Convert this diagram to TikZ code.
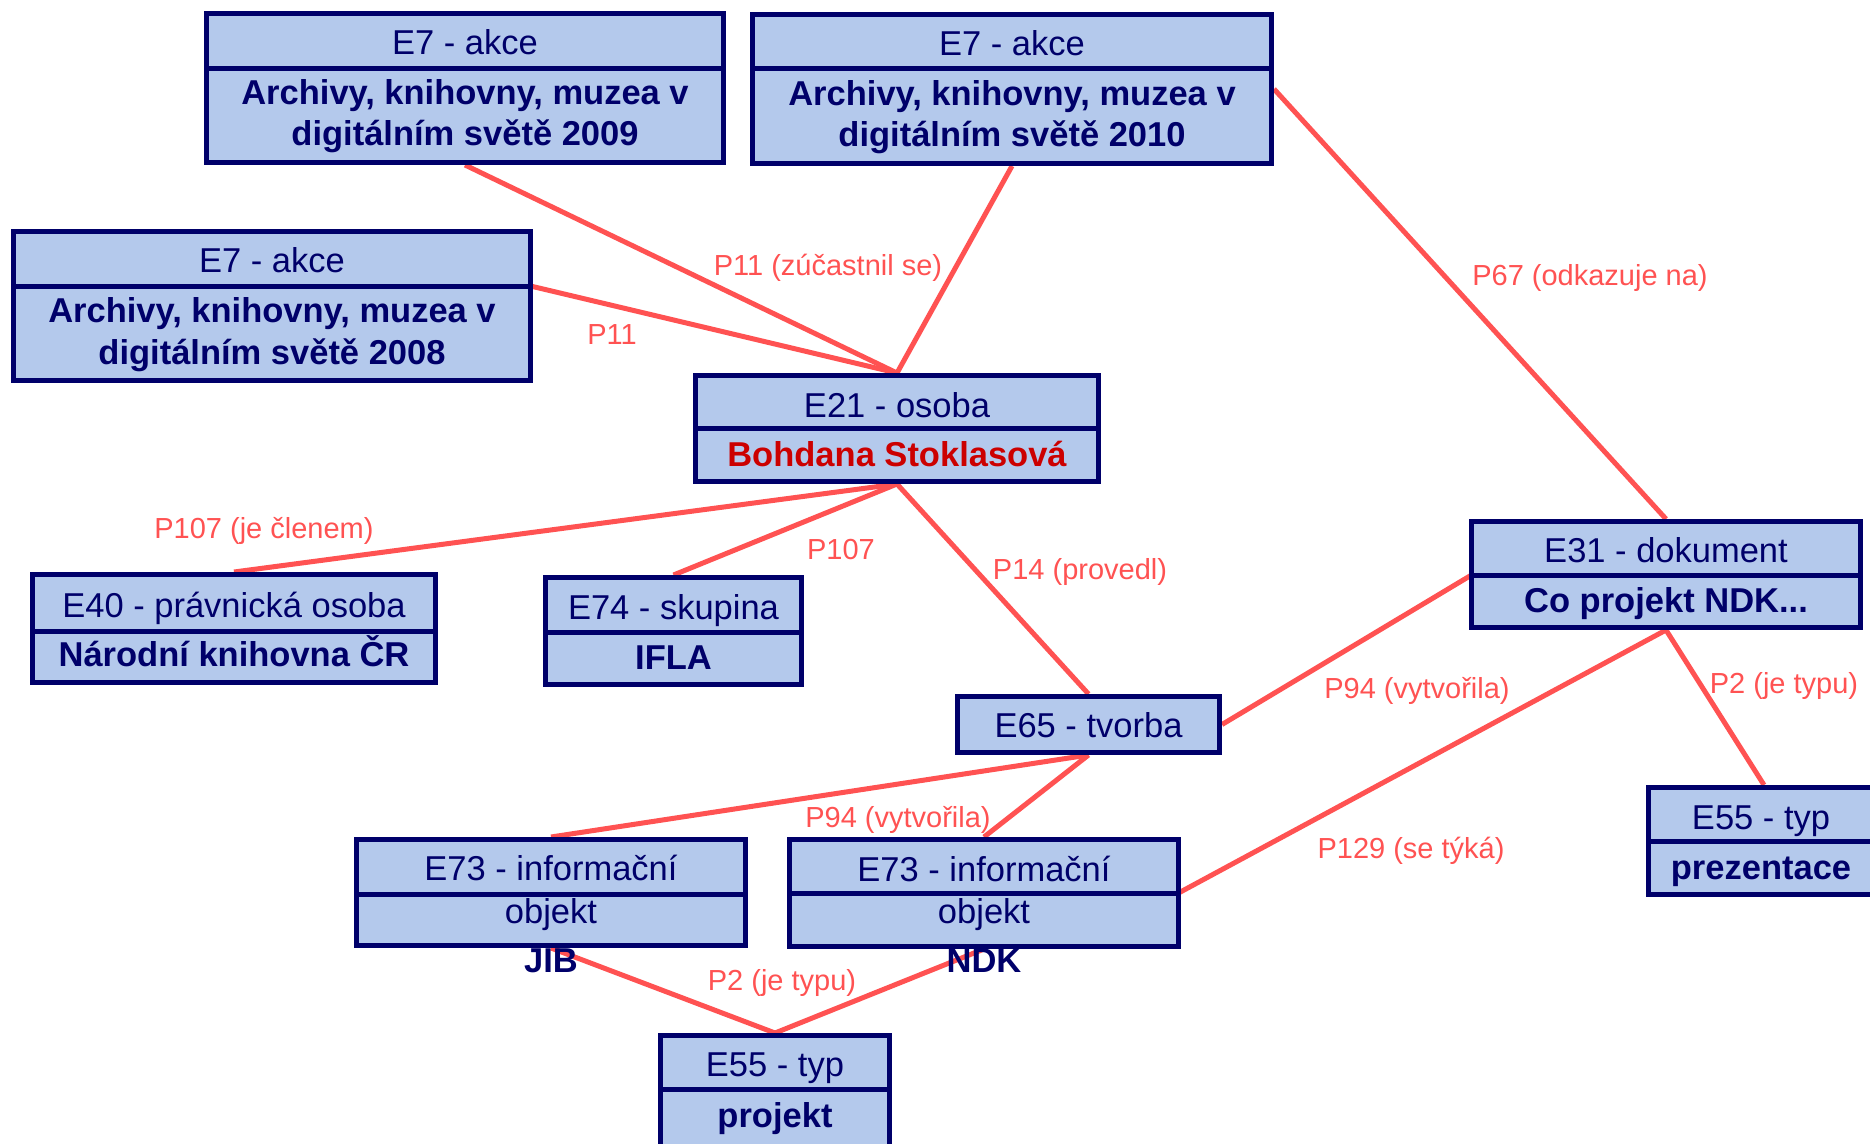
\documentclass[tikz,border=0pt]{standalone}
\usepackage{fontspec}
\setmainfont{Liberation Sans}
\usetikzlibrary{backgrounds}
\definecolor{boxfill}{RGB}{180,201,236}
\definecolor{navy}{RGB}{0,0,106}
\definecolor{relred}{RGB}{255,82,82}
\definecolor{namered}{RGB}{204,0,0}
\newcommand\ebox[6]{%
  \node[ebox, minimum width={#4-#2-5}, minimum height={#5-#3-5}] (#1) at ({(#2+#4)/2},{(#3+#5)/2}) {};
  \draw[divline] ({#2+2.5},#6) coordinate (#1-dl) -- ({#4-2.5},#6) coordinate (#1-dr);}
\begin{document}
\begin{tikzpicture}[x=1pt,y=-1pt,
  ebox/.style={draw=navy, line width=5pt, fill=boxfill, inner sep=0pt},
  divline/.style={draw=navy, line width=5pt},
  rel/.style={draw=relred, line width=5pt},
  txt/.style={inner sep=0pt, text height=24.5pt, text depth=0pt, text=navy},
  hdr/.style={txt, font=\fontsize{34.5}{40}\selectfont},
  bld/.style={txt, font=\fontsize{34.5}{40}\selectfont\bfseries},
  lbl/.style={inner sep=0pt, text height=20.9pt, text depth=0pt, text=relred, font=\fontsize{29}{34}\selectfont}]
\useasboundingbox (0,0) rectangle (1870,1143);
\clip (0,0) rectangle (1870,1143);

% boxes
\ebox{A}{204}{11}{726}{165}{68}
\ebox{B}{750}{12}{1274}{166}{68}
\ebox{C}{11}{229}{533}{383}{286}
\ebox{D}{693}{373}{1101}{484}{428}
\ebox{E}{1469}{519}{1863}{630}{575}
\ebox{F}{30}{572}{438}{685}{631}
\ebox{G}{543}{575}{804}{687}{632}
\node[ebox, minimum width=262, minimum height=56] (H) at (1088.5,724.5) {};
\ebox{I}{354}{837}{748}{948}{894}
\ebox{J}{787}{837}{1181}{949}{893}
\ebox{K}{658}{1033}{892}{1190}{1089}
\ebox{L}{1646}{785}{1882}{897}{841}

% texts
\node[hdr] (A1) at (465,42) {E7 - akce};
\node[bld] (A2) at (465,92) {Archivy, knihovny, muzea v};
\node[bld] (A3) at (465,133) {digitálním světě 2009};
\node[hdr] (B1) at (1012,43) {E7 - akce};
\node[bld] (B2) at (1012,93) {Archivy, knihovny, muzea v};
\node[bld] (B3) at (1012,134) {digitálním světě 2010};
\node[hdr] (C1) at (272,260) {E7 - akce};
\node[bld] (C2) at (272,310) {Archivy, knihovny, muzea v};
\node[bld] (C3) at (272,352) {digitálním světě 2008};
\node[hdr] (D1) at (897,405) {E21 - osoba};
\node[bld, text=namered] (D2) at (897,454) {Bohdana Stoklasová};
\node[hdr] (E1) at (1666,550) {E31 - dokument};
\node[bld] (E2) at (1666,600) {Co projekt NDK...};
\node[hdr] (F1) at (234,605) {E40 - právnická osoba};
\node[bld] (F2) at (234,654) {Národní knihovna ČR};
\node[hdr] (G1) at (673.5,607) {E74 - skupina};
\node[bld] (G2) at (673.5,657) {IFLA};
\node[hdr] (H1) at (1088.5,725) {E65 - tvorba};
\node[hdr] (I1) at (551,868) {E73 - informační};
\node[hdr] (I2) at (551,911) {objekt};
\node[bld] (I3) at (551,960) {JIB};
\node[hdr] (J1) at (984,869) {E73 - informační};
\node[hdr] (J2) at (984,911) {objekt};
\node[bld] (J3) at (984,960) {NDK};
\node[hdr] (K1) at (775,1064) {E55 - typ};
\node[bld] (K2) at (775,1115) {projekt};
\node[hdr] (L1) at (1761,817) {E55 - typ};
\node[bld] (L2) at (1761,867) {prezentace};

% connectors
\begin{scope}[on background layer]
\draw[rel] (A.south) -- (D.north);
\draw[rel] (B.south) -- (D.north);
\draw[rel] (C-dr) -- (D.north);
\draw[rel] (B.east) -- (E.north);
\draw[rel] (D.south) -- (F.north);
\draw[rel] (D.south) -- (G.north);
\draw[rel] (D.south) -- (H.north);
\draw[rel] (E-dl) -- (H.east);
\draw[rel] (E.south) -- (J-dr);
\draw[rel] (E.south) -- (L.north);
\draw[rel] (H.south) -- (I.north);
\draw[rel] (H.south) -- (J.north);
\draw[rel] (I.south) -- (K.north);
\draw[rel] (J.south) -- (K.north);
\end{scope}

% labels
\node[lbl] (l1) at (828,265) {P11 (zúčastnil se)};
\node[lbl] (l2) at (612,334) {P11};
\node[lbl] (l3) at (1590,275) {P67 (odkazuje na)};
\node[lbl] (l4) at (264,528) {P107 (je členem)};
\node[lbl] (l5) at (841,549) {P107};
\node[lbl] (l6) at (1080,569) {P14 (provedl)};
\node[lbl] (l7) at (1417,688) {P94 (vytvořila)};
\node[lbl] (l8) at (1411,848) {P129 (se týká)};
\node[lbl] (l9) at (1784,683) {P2 (je typu)};
\node[lbl] (l10) at (898,817) {P94 (vytvořila)};
\node[lbl] (l11) at (782,980) {P2 (je typu)};
\end{tikzpicture}
\end{document}
